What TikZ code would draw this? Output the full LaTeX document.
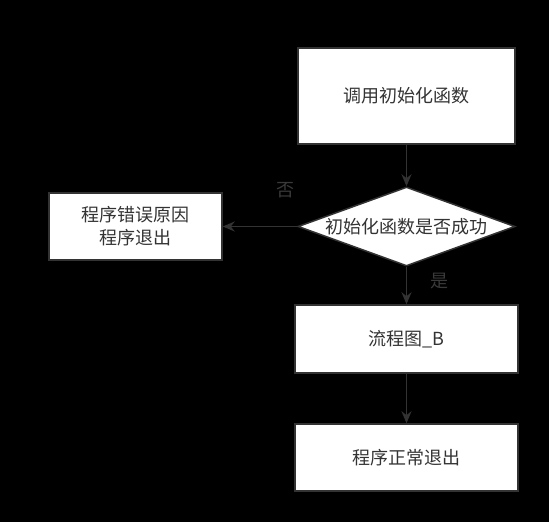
\documentclass[tikz,border=0pt]{standalone}
\usepackage{fontspec}
\setmainfont{Noto Sans CJK SC}
\usetikzlibrary{shapes.geometric,arrows.meta}
\definecolor{edge}{HTML}{333333}
\definecolor{lbl}{HTML}{3A3A3A}
\tikzset{
  box/.style={draw=edge, line width=1.5pt, fill=white, text=edge, minimum width=#1, align=center, inner sep=0pt, font=\fontsize{18}{23}\selectfont},
  dia/.style={diamond, draw=edge, line width=1.5pt, fill=white, text=edge, aspect=2.75, inner sep=0pt, minimum width=217pt, minimum height=79pt},
  conn/.style={draw=edge, line width=1.5pt, -{Stealth[length=12pt,width=10pt]}},
  lab/.style={text=lbl, font=\fontsize{18}{22}\selectfont, inner sep=0pt}
}
\begin{document}
\begin{tikzpicture}[x=1pt,y=-1pt]
\fill[black] (0,0) rectangle (549,522);
\useasboundingbox (0,0) rectangle (549,522);
\node[box=217pt, minimum height=96pt] (init) at (406.5,96) {调用初始化函数};
\node[dia] (check) at (406.5,226.5) {};
\node[text=edge, font=\fontsize{18}{23}\selectfont, inner sep=0pt] (checktext) at (406.5,227) {初始化函数是否成功};
\node[box=173pt, minimum height=67pt] (err) at (135.5,226.5) {程序错误原因\\程序退出};
\node[box=223pt, minimum height=68pt] (flow) at (406.5,339) {流程图\_B};
\node[box=223pt, minimum height=67pt] (exit) at (406.5,457.5) {程序正常退出};
\draw[conn] (init) -- (check);
\draw[conn] (check) -- (err);
\draw[conn] (check) -- (flow);
\draw[conn] (flow) -- (exit);
\node[lab] (no) at (285,190) {否};
\node[lab] (yes) at (439,281) {是};
\end{tikzpicture}
\end{document}
